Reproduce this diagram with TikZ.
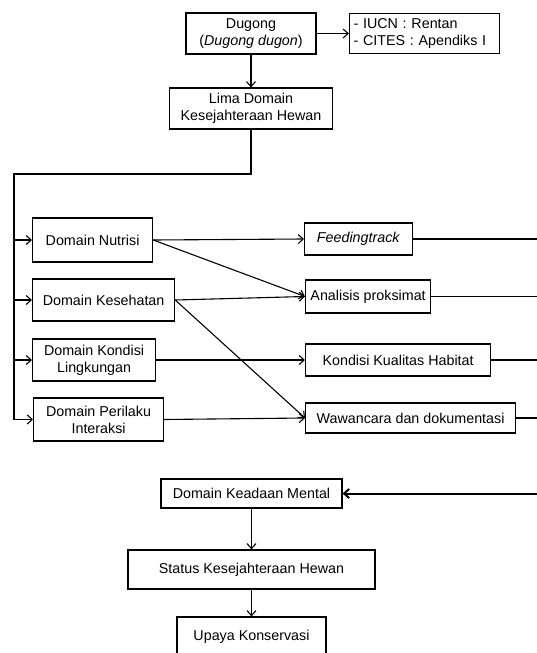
\documentclass[tikz,border=0pt]{standalone}
\usepackage{fontspec}
\setmainfont{Liberation Sans}
\usetikzlibrary{positioning,arrows.meta}
\tikzstyle{block} = [draw, fill=white, rectangle, line width=1.2pt, inner sep=3pt, align=center, font=\fontsize{14.3}{17}\selectfont]
\tikzstyle{wire} = [line width=1.1pt]
\tikzstyle{bus} = [line width=2pt]
\begin{document}
\begin{tikzpicture}[x=1pt, y=-1pt, >={Straight Barb[length=5pt,width=9pt]}, node distance=75pt]
        \useasboundingbox (0,0) rectangle (537,653);

        % species and status
        \node [block, minimum width=130pt, minimum height=41pt] (dugong) at (251,33.5) {Dugong\\(\textit{Dugong dugon})};
        \node [block, align=left, text width=142pt, inner xsep=4pt, minimum height=40pt, right of=dugong, node distance=173.5pt] (iucn) {- IUCN : Rentan\\- CITES : Apendiks I};
        \node [block, minimum width=163pt, minimum height=41pt, below of=dugong] (lima) {Lima Domain\\Kesejahteraan Hewan};

        % domains
        \node [block, anchor=west, minimum width=120pt, minimum height=44pt] (nutrisi) at (32,240) {Domain Nutrisi};
        \node [block, anchor=west, minimum width=142pt, minimum height=42pt] (sehat) at (32,300) {Domain Kesehatan};
        \node [block, anchor=west, minimum width=123pt, minimum height=42pt] (kondisi) at (32,360) {Domain Kondisi\\Lingkungan};
        \node [block, anchor=west, minimum width=130pt, minimum height=43pt] (perilaku) at (33,419.5) {Domain Perilaku\\Interaksi};

        % methods
        \node [block, anchor=west, minimum width=108pt, minimum height=32pt] (feed) at (304,239) {\textit{Feedingtrack}};
        \node [block, anchor=west, minimum width=125pt, minimum height=33pt] (proks) at (305,296.5) {Analisis proksimat};
        \node [block, anchor=west, minimum width=185pt, minimum height=32pt] (habitat) at (305,360) {Kondisi Kualitas Habitat};
        \node [block, anchor=west, minimum width=210pt, minimum height=30pt] (wawan) at (305,418) {Wawancara dan dokumentasi};

        % result
        \node [block, minimum width=181pt, minimum height=29pt] (mental) at (251.5,493.5) {Domain Keadaan Mental};
        \node [block, minimum width=247pt, minimum height=39pt, below of=mental, node distance=76pt] (statushewan) {Status Kesejahteraan Hewan};
        \node [block, minimum width=149pt, minimum height=40pt, below of=statushewan, node distance=67.5pt] (upaya) {Upaya Konservasi};

        \draw [->, wire] (dugong) -- (iucn);
        \draw [->, wire] (dugong) -- (lima);

        \coordinate (split) at (14,174);
        \draw [bus] (lima.south) |- (split) -- (split |- perilaku);
        \foreach \d in {nutrisi,sehat,kondisi,perilaku}
            \draw [->, wire] (split |- \d) -- (\d);

        \draw [->, wire] (nutrisi.east) -- (feed.west);
        \draw [->, wire] (nutrisi.east) -- (proks.west);
        \draw [->, wire] (sehat.east) -- (proks.west);
        \draw [->, wire] (sehat.east) -- (wawan.west);
        \draw [->, wire] (kondisi.east) -- (habitat.west);
        \draw [->, wire] (perilaku.east) -- (wawan.west);

        \coordinate (edge) at (537,0);
        \foreach \m in {feed,proks,habitat,wawan}
            \draw [wire] (\m.east) -- (\m.east -| edge);
        \draw [->, bus] (mental.east -| edge) -- (mental.east);

        \draw [->, wire] (mental) -- (statushewan);
        \draw [->, wire] (statushewan) -- (upaya);
    \end{tikzpicture}
\end{document}
